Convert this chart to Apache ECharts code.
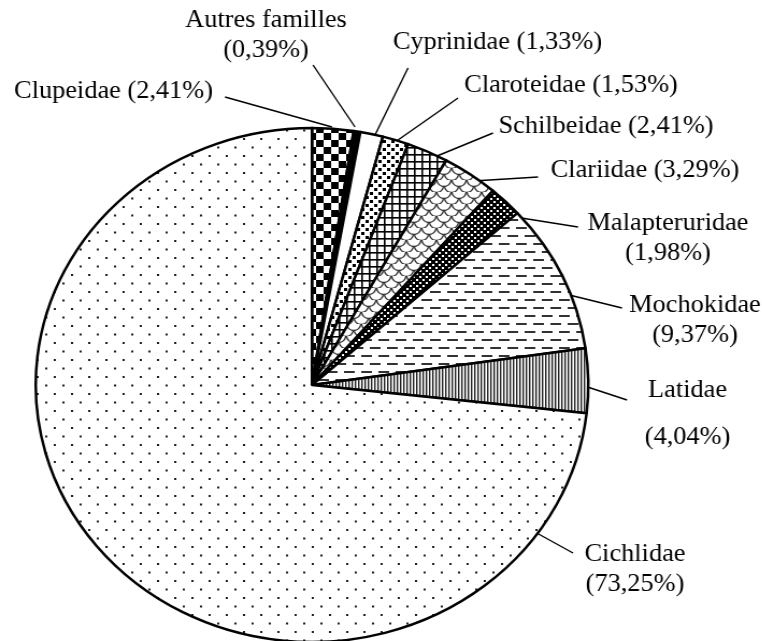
<!DOCTYPE html>
<html>
<head>
<meta charset="utf-8">
<script src="https://cdn.jsdelivr.net/npm/echarts@6/dist/echarts.min.js"></script>
<style>
  html, body { margin: 0; padding: 0; background: #fff; overflow: hidden; }
  #wrap { width: 762px; height: 641px; overflow: hidden; position: relative; }
  /* the original pie is a bit wider than tall, so the whole chart is stretched */
  #chart { width: 709px; height: 641px; transform: scaleX(1.075); transform-origin: 0 0; }
</style>
</head>
<body>
<div id="wrap"><div id="chart"></div></div>
<script>
const families = ['Clupeidae', 'Autres familles', 'Cyprinidae', 'Claroteidae', 'Schilbeidae',
  'Clariidae', 'Malapteruridae', 'Mochokidae', 'Latidae', 'Cichlidae'];
const percents = [2.41, 0.39, 1.33, 1.53, 2.41, 3.29, 1.98, 9.37, 4.04, 73.25];
const twoLineLabels = ['Autres familles', 'Malapteruridae', 'Mochokidae', 'Latidae', 'Cichlidae'];

const S = 1.075; // horizontal stretch

// small canvas tiles used as fill patterns
function tile(w, h, bg, draw) {
  const c = document.createElement('canvas');
  c.width = w;
  c.height = h;
  const g = c.getContext('2d');
  g.fillStyle = bg;
  g.fillRect(0, 0, w, h);
  draw(g);
  return { image: c, repeat: 'repeat' };
}

const fills = [
  // checker
  tile(14, 14, '#fff', g => { g.fillStyle = '#000'; g.fillRect(0, 0, 7, 7); g.fillRect(7, 7, 7, 7); }),
  '#000',
  '#fff',
  // dense dots
  tile(8, 8, '#fff', g => { g.fillStyle = '#000'; g.fillRect(0, 0, 3, 3); g.fillRect(4, 4, 3, 3); }),
  // grid
  tile(7, 7, '#fff', g => { g.fillStyle = '#000'; g.fillRect(0, 0, 7, 1.6); g.fillRect(0, 0, 1.6, 7); }),
  // scales
  tile(14, 12, '#fff', g => {
    g.strokeStyle = '#333';
    g.lineWidth = 1.3;
    [[7, 0], [0, 6], [14, 6], [7, 12]].forEach(([cx, cy]) => {
      g.beginPath();
      g.arc(cx, cy, 6.5, 0, Math.PI);
      g.stroke();
    });
  }),
  // white dots on black
  tile(6, 6, '#000', g => { g.fillStyle = '#fff'; g.fillRect(0, 0, 2, 2); g.fillRect(3, 3, 2, 2); }),
  // dashes
  tile(16, 16, '#fff', g => {
    g.fillStyle = '#333';
    g.fillRect(0, 3, 10, 2);
    g.fillRect(8, 11, 8, 2);
    g.fillRect(0, 11, 2, 2);
  }),
  // vertical lines
  tile(3, 3, '#fff', g => { g.fillStyle = '#222'; g.fillRect(0, 0, 1.4, 3); }),
  // sparse dots
  tile(16, 17, '#fff', g => { g.fillStyle = '#222'; g.fillRect(2, 2, 2, 2); g.fillRect(10, 10.5, 2, 2); })
];

// label anchors and leader lines, in picture pixels
const labelSpots = [
  { c: [113.5, 92], line: [[225, 97], [332, 127]] },
  { c: [266, 36], line: [[313, 65], [355, 127]] },
  { c: [497.5, 43], line: [[408, 68], [375, 135]] },
  { c: [571, 86], line: [[458, 98], [398, 140]] },
  { c: [606, 127], line: [[493, 133], [420, 163]] },
  { c: [645, 171], line: [[538, 177], [457, 182]] },
  { c: [668, 239], line: [[578, 227], [515, 217]] },
  { c: [695, 321], line: [[622, 308], [537, 287]] },
  { c: [687.5, 414], line: [[627, 400], [557, 377]] },
  { c: [635, 570], line: [[573, 553], [504, 515]] }
];

const chart = echarts.init(document.getElementById('chart'));
chart.setOption({
  animation: false,
  backgroundColor: '#fff',
  series: [{
    type: 'pie',
    center: [312 / S, 385],
    radius: 257,
    startAngle: 90,
    clockwise: true,
    avoidLabelOverlap: false,
    emphasis: { disabled: true },
    itemStyle: { borderColor: '#000', borderWidth: 2.5 },
    label: {
      show: true,
      position: 'outside',
      fontFamily: '"Liberation Serif", "Times New Roman", serif',
      fontSize: 24.5,
      lineHeight: 30,
      color: '#000',
      formatter: p => {
        const pct = '(' + p.value.toFixed(2).replace('.', ',') + '%)';
        if (p.name === 'Latidae') return p.name + '\n\n' + pct;
        return twoLineLabels.includes(p.name) ? p.name + '\n' + pct : p.name + ' ' + pct;
      }
    },
    labelLine: { show: true, lineStyle: { color: '#000', width: 1.4 } },
    labelLayout: p => {
      const spot = labelSpots[p.dataIndex];
      return {
        x: spot.c[0] / S,
        y: spot.c[1],
        align: 'center',
        verticalAlign: 'middle',
        labelLinePoints: [
          [spot.line[0][0] / S, spot.line[0][1]],
          [spot.line[0][0] / S, spot.line[0][1]],
          [spot.line[1][0] / S, spot.line[1][1]]
        ]
      };
    },
    data: families.map((name, i) => ({
      name: name,
      value: percents[i],
      itemStyle: { color: fills[i] },
      label: name === 'Latidae' ? { lineHeight: 23.5 } : undefined
    }))
  }]
});
</script>
</body>
</html>
